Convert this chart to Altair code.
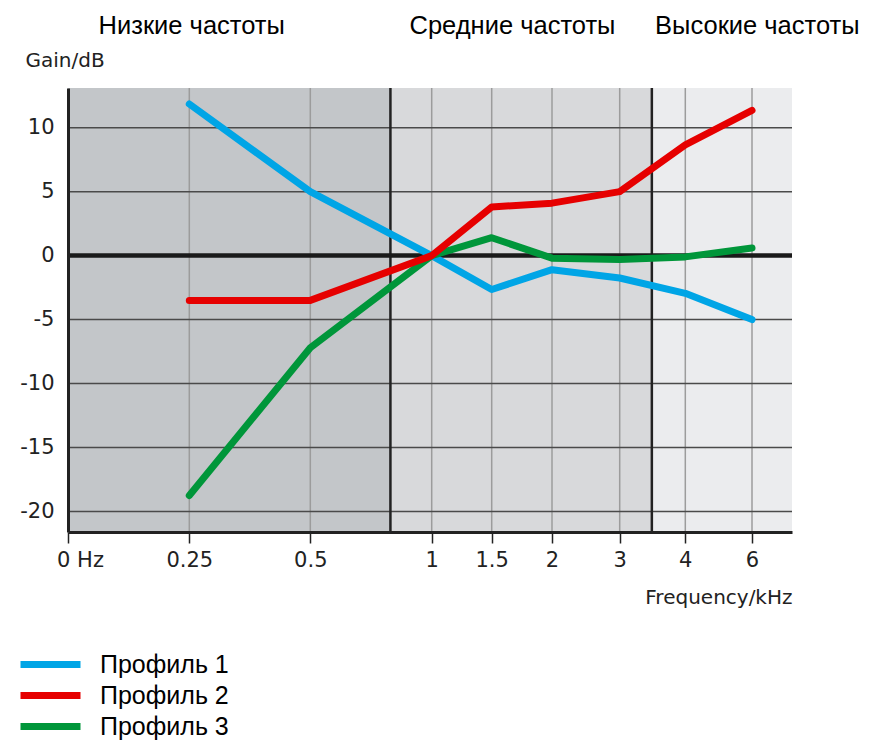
import altair as alt
import pandas as pd

# ---------------- data ----------------
freqs = [0.25, 0.5, 1, 1.5, 2, 3, 4, 6]
profile_names = ["Профиль 1", "Профиль 2", "Профиль 3"]
profile_1 = [11.85, 5.0, 0.0, -2.65, -1.1, -1.75, -2.95, -5.0]
profile_2 = [-3.5, -3.5, 0.0, 3.8, 4.1, 5.0, 8.65, 11.35]
profile_3 = [-18.75, -7.2, 0.0, 1.4, -0.2, -0.3, -0.1, 0.6]
profile_colors = ["#00a5e6", "#e60000", "#00963a"]
draw_order = [0, 2, 1]  # stacking: red drawn above green, green above blue

x_ticks = [0, 0.25, 0.5, 1, 1.5, 2, 3, 4, 6]
y_ticks = [-20, -15, -10, -5, 0, 5, 10]

band_names = ["Низкие частоты", "Средние частоты", "Высокие частоты"]
band_start = [0, 0.83, 3.49]
band_end = [0.83, 3.49, 7.2]
band_colors = ["#c3c6c9", "#d8d9db", "#ebecee"]
band_label_x = [0.255, 1.672, 6.16]
band_edges = [0.83, 3.49]

# ---------------- tables ----------------
series = dict(zip(profile_names, [profile_1, profile_2, profile_3]))
bands_df = pd.DataFrame({"name": band_names, "freq": band_start, "end": band_end,
                         "shade": band_colors, "label_x": band_label_x})
xgrid_df = pd.DataFrame({"freq": x_ticks[1:]})
ygrid_df = pd.DataFrame({"gain": y_ticks})
edges_df = pd.DataFrame({"freq": band_edges})
zero_df = pd.DataFrame({"gain": [0]})

# piecewise frequency scale (non-uniform spacing as in the original drawing)
xscale = alt.Scale(domain=[0, 0.25, 0.5, 1, 1.5, 2, 3, 4, 6, 7.2],
                   range=[0, 121.3, 242.3, 363.7, 423.7, 484, 551.7, 617.3, 684, 724],
                   zero=False, nice=False)
yscale = alt.Scale(domain=[-21.6, 13.1], zero=False, nice=False)
color_scale = alt.Scale(domain=profile_names, range=profile_colors)

AX_FONT = "DejaVu Sans"
TXT_FONT = "Liberation Sans"

x_axis = alt.Axis(
    values=x_ticks, grid=False, title="Frequency/kHz",
    labelExpr="datum.value == 0 ? '0 Hz' : toString(datum.value)",
    labelFlush=False, labelOverlap=False,
    labelOffset={"condition": {"test": "datum.value == 0", "value": 12}, "value": 0},
    labelFont=AX_FONT, labelFontSize=21, labelColor="#222222", labelPadding=6,
    tickSize=11, tickColor="#222222", tickWidth=1.5,
    domainColor="#222222", domainWidth=3,
    titleFont=AX_FONT, titleFontSize=20, titleFontWeight="normal", titleColor="#222222",
    titleAlign="right", titleAnchor="end", titleX=724, titleY=65, titleBaseline="middle",
    zindex=1,
)
y_axis = alt.Axis(
    values=y_ticks, grid=False, ticks=False, title="Gain/dB",
    labelExpr="toString(datum.value)", labelFlush=False, labelOverlap=False,
    labelFont=AX_FONT, labelFontSize=21, labelColor="#222222", labelPadding=14,
    domainColor="#222222", domainWidth=3,
    titleFont=AX_FONT, titleFontSize=20, titleFontWeight="normal", titleColor="#222222",
    titleAngle=0, titleAlign="left", titleBaseline="middle", titleX=-43, titleY=-28,
    zindex=1,
)

def xenc(field="freq"):
    return alt.X(f"{field}:Q", scale=xscale, axis=x_axis)

def yenc(field="gain"):
    return alt.Y(f"{field}:Q", scale=yscale, axis=y_axis)

bands = alt.Chart(bands_df).mark_rect().encode(
    x=xenc("freq"),
    x2="end:Q",
    color=alt.Color("shade:N", scale=None),
)

vgrid = alt.Chart(xgrid_df).mark_rule(color="#9c9c9c", strokeWidth=1.5).encode(x=xenc())
hgrid = alt.Chart(ygrid_df).mark_rule(color="#4a4a4a", strokeWidth=1.5).encode(y=yenc())
edges = alt.Chart(edges_df).mark_rule(color="#222222", strokeWidth=2.5).encode(x=xenc())
zero = alt.Chart(zero_df).mark_rule(color="#1a1a1a", strokeWidth=4.5).encode(y=yenc())

legend = alt.Legend(
    title=None, orient="none", legendX=-51, legendY=564,
    symbolType="stroke", symbolStrokeWidth=7, symbolSize=3600,
    labelFont=TXT_FONT, labelFontSize=25, labelColor="#000000",
    labelOffset=16, rowPadding=5, padding=0, labelBaseline="middle",
    clipHeight=25,
)

line_layers = []
for i in draw_order:
    name = profile_names[i]
    df = pd.DataFrame({"profile": name, "freq": freqs, "gain": series[name]})
    line_layers.append(
        alt.Chart(df).mark_line(strokeWidth=7, strokeCap="round", strokeJoin="round").encode(
            x=xenc(), y=yenc(),
            color=alt.Color("profile:N", scale=color_scale, legend=legend),
        )
    )

labels = alt.Chart(bands_df).mark_text(
    font=TXT_FONT, fontSize=25.5, color="#000000", align="center", baseline="middle"
).encode(
    x=alt.X("label_x:Q", scale=xscale, axis=x_axis),
    y=alt.value(-62.5),
    text="name:N",
)

chart = alt.layer(bands, vgrid, hgrid, edges, zero, *line_layers, labels).properties(
    width=724, height=444,
    padding={"left": 60, "top": 80, "right": 70, "bottom": 215},
    autosize=alt.AutoSizeParams(type="none"),
    background="white",
).configure_view(stroke=None)

chart.save("out.html", embed_options={"renderer": "svg", "actions": False})
